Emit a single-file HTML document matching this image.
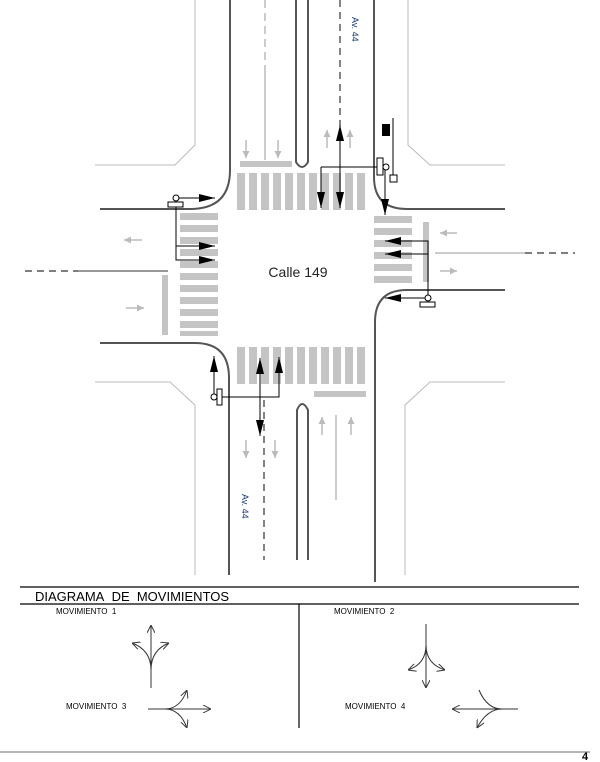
<!DOCTYPE html>
<html><head><meta charset="utf-8"><style>
html,body{margin:0;padding:0;background:#fff}
svg{display:block}
text{font-family:"Liberation Sans",sans-serif}
</style></head><body>
<svg width="600" height="762" viewBox="0 0 600 762" xmlns="http://www.w3.org/2000/svg">
<defs>
<marker id="ba" viewBox="0 0 16 8" refX="16" refY="4" markerWidth="16" markerHeight="8" orient="auto-start-reverse" markerUnits="userSpaceOnUse"><path d="M0,0 L16,4 L0,8 Z" fill="#000"/></marker>
<marker id="ga" viewBox="0 0 8 8" refX="8" refY="4" markerWidth="7" markerHeight="7" orient="auto" markerUnits="userSpaceOnUse"><path d="M0,0 L8,4 L0,8 Z" fill="#bbb"/></marker>
<marker id="oa" viewBox="0 0 10 10" refX="10" refY="5" markerWidth="8" markerHeight="8" orient="auto" markerUnits="userSpaceOnUse"><path d="M0,0 L10,5 L0,10" fill="none" stroke="#333" stroke-width="1.2"/></marker>
</defs>
<g stroke="#bbb" stroke-width="1" fill="none">
<path d="M195,0 V145 L175,165 H95"/>
<path d="M408,0 V145 L430,165 H505"/>
<path d="M95,382 H170 L195,405 V575"/>
<path d="M405,575 V405 L430,382 H505"/>
</g>
<g stroke="#555" stroke-width="2" fill="none">
<path d="M230,0 V170 Q230,209 190,209 H100"/>
<path d="M374,0 V177 Q374,209 407,209 H505"/>
<path d="M100,343 H195 Q229,343 229,378 V575"/>
<path d="M375,582 V322 Q375,290 407,290 H505"/>
<path d="M296,0 V162 Q302,172 308,162 V0"/>
<path d="M297,560 V410 Q302,398 308,410 V560"/>
</g>
<g fill="#c4c4c4">
<g id="tc">
<rect x="237" y="173" width="8" height="37"/><rect x="249" y="173" width="8" height="37"/><rect x="261" y="173" width="8" height="37"/><rect x="273" y="173" width="8" height="37"/><rect x="285" y="173" width="8" height="37"/><rect x="297" y="173" width="8" height="37"/><rect x="309" y="173" width="8" height="37"/><rect x="321" y="173" width="8" height="37"/><rect x="333" y="173" width="8" height="37"/><rect x="345" y="173" width="8" height="37"/><rect x="357" y="173" width="8" height="37"/>
</g>
<use href="#tc" y="174"/>
<rect x="180" y="213" width="38" height="7"/><rect x="180" y="225" width="38" height="7"/><rect x="180" y="237" width="38" height="7"/><rect x="180" y="249" width="38" height="7"/><rect x="180" y="261" width="38" height="7"/><rect x="180" y="273" width="38" height="7"/><rect x="180" y="285" width="38" height="7"/><rect x="180" y="297" width="38" height="7"/><rect x="180" y="309" width="38" height="7"/><rect x="180" y="321" width="38" height="7"/><rect x="180" y="331" width="38" height="5"/>
<rect x="374" y="216" width="38" height="7"/><rect x="374" y="228" width="38" height="7"/><rect x="374" y="240" width="38" height="7"/><rect x="374" y="252" width="38" height="7"/><rect x="374" y="264" width="38" height="7"/><rect x="374" y="276" width="38" height="7"/>
<rect x="240" y="161" width="52" height="6"/>
<rect x="314" y="391" width="52" height="6"/>
<rect x="162" y="275" width="6" height="60"/>
<rect x="423" y="222" width="6" height="60"/>
</g>
<g stroke="#bbb" stroke-width="1.5" fill="none">
<path d="M265,0 V70" stroke-dasharray="8,5"/>
<path d="M265,70 V160"/>
<path d="M336,415 V500"/>
<path d="M78,271 H168" stroke="#999" stroke-width="2"/>
<path d="M435,253 H525"/>
<path d="M246,140 V158" marker-end="url(#ga)"/><path d="M278,140 V158" marker-end="url(#ga)"/>
<path d="M327,148 V130" marker-end="url(#ga)"/><path d="M350,148 V130" marker-end="url(#ga)"/>
<path d="M246,440 V458" marker-end="url(#ga)"/><path d="M275,440 V458" marker-end="url(#ga)"/>
<path d="M322,435 V417" marker-end="url(#ga)"/><path d="M351,435 V417" marker-end="url(#ga)"/>
<path d="M142,240 H124" marker-end="url(#ga)"/><path d="M126,308 H144" marker-end="url(#ga)"/>
<path d="M457,233 H440" marker-end="url(#ga)"/><path d="M440,271 H457" marker-end="url(#ga)"/>
</g>
<g stroke="#333" stroke-width="1.2" fill="none" stroke-dasharray="7,5">
<path d="M340,0 V130"/><path d="M264,400 V560"/>
<path d="M25,271 H78"/><path d="M525,253 H575"/>
</g>
<g stroke="#000" stroke-width="1" fill="none">
<path d="M321,167 H377"/><path d="M321,167 V208" marker-end="url(#ba)"/>
<path d="M340,125 V208" marker-start="url(#ba)" marker-end="url(#ba)"/>
<path d="M385,170 V215" marker-end="url(#ba)"/>
<path d="M393,118 V176"/>
<rect x="377" y="158" width="6" height="17" fill="#fff"/><circle cx="386" cy="167" r="3" fill="#fff"/>
<rect x="390" y="175" width="7" height="7" fill="#fff"/>
<path d="M176,200 V260 H215" marker-end="url(#ba)"/><path d="M176,246 H215" marker-end="url(#ba)"/>
<path d="M176,198 H215" marker-end="url(#ba)"/>
<rect x="168" y="202" width="15" height="5" fill="#fff"/><circle cx="176" cy="198" r="3" fill="#fff"/>
<path d="M428,298 V241 H385" marker-end="url(#ba)"/><path d="M428,254 H385" marker-end="url(#ba)"/>
<path d="M428,298 H385" marker-end="url(#ba)"/>
<rect x="420" y="302" width="15" height="5" fill="#fff"/><circle cx="428" cy="298" r="3" fill="#fff"/>
<path d="M214,394 V356" marker-end="url(#ba)"/>
<path d="M222,397 H279 V357" marker-end="url(#ba)"/>
<path d="M260,436 V358" marker-start="url(#ba)" marker-end="url(#ba)"/>
<rect x="217" y="389" width="5" height="16" fill="#fff"/><circle cx="214" cy="397" r="3" fill="#fff"/>
</g>
<path d="M382,124 h8 v12 h-8 z" fill="#000"/>
<text x="298" y="277" font-size="14" text-anchor="middle" fill="#222">Calle 149</text>
<text x="0" y="0" font-size="9" fill="#1a3a6e" transform="translate(352,17) rotate(90)">Av. 44</text>
<text x="0" y="0" font-size="9" fill="#1a3a6e" transform="translate(242,494) rotate(90)">Av. 44</text>
<g stroke="#000" stroke-width="1.2">
<path d="M20,587 H579"/><path d="M20,604 H579"/><path d="M299,604 V728"/>
</g>
<path d="M0,752 H590" stroke="#888" stroke-width="1.2"/>
<text x="35" y="601" font-size="13" fill="#000">DIAGRAMA&#160; DE&#160; MOVIMIENTOS</text>
<g font-size="8" fill="#000">
<text x="56" y="614">MOVIMIENTO&#160; 1</text>
<text x="334" y="614">MOVIMIENTO&#160; 2</text>
<text x="66" y="709">MOVIMIENTO&#160; 3</text>
<text x="345" y="709">MOVIMIENTO&#160; 4</text>
</g>
<text x="582" y="760" font-size="11" font-weight="bold">4</text>
<g stroke="#333" stroke-width="1" fill="none">
<path d="M151,688 V625" marker-end="url(#oa)"/>
<path d="M151,670 Q151,650 132,643" marker-end="url(#oa)"/>
<path d="M151,670 Q151,650 169,643" marker-end="url(#oa)"/>
<path d="M426,624 V688" marker-end="url(#oa)"/>
<path d="M426,645 Q426,664 408,670" marker-end="url(#oa)"/>
<path d="M426,645 Q426,664 445,670" marker-end="url(#oa)"/>
<path d="M148,709 H211" marker-end="url(#oa)"/>
<path d="M165,709 Q180,709 187,690" marker-end="url(#oa)"/>
<path d="M165,709 Q180,709 187,728" marker-end="url(#oa)"/>
<path d="M518,709 H452" marker-end="url(#oa)"/>
<path d="M502,709 Q487,709 479,690"/>
<path d="M502,709 Q487,709 477,728" marker-end="url(#oa)"/>
</g>
</svg>
</body></html>
